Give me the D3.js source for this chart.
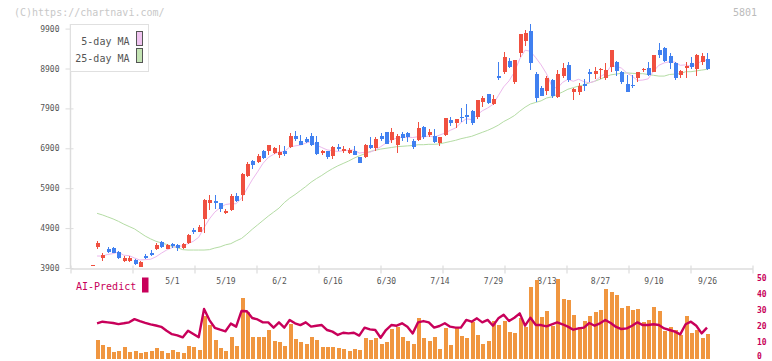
<!DOCTYPE html>
<html>
<head>
<meta charset="utf-8">
<script src="https://cdn.jsdelivr.net/npm/d3@7"></script>
<style>
body { margin: 0; background: #fff; }
svg { display: block; }
text { font-family: "DejaVu Sans Mono", monospace; }
</style>
</head>
<body>
<svg id="chart" width="772" height="361"></svg>
<script>
// trading days shown on the chart
const dates = ("4/9 4/10 4/11 4/14 4/15 4/16 4/17 4/18 4/21 4/22 4/23 4/24 4/25 4/28 4/30 " +
	"5/1 5/2 5/7 5/8 5/9 5/12 5/13 5/14 5/15 5/16 5/19 5/20 5/21 5/22 5/23 5/26 5/27 5/28 5/29 5/30 " +
	"6/2 6/3 6/4 6/5 6/6 6/9 6/10 6/11 6/12 6/13 6/16 6/17 6/18 6/19 6/20 6/23 6/24 6/25 6/26 6/27 6/30 " +
	"7/1 7/2 7/3 7/4 7/7 7/8 7/9 7/10 7/11 7/14 7/15 7/16 7/17 7/18 7/22 7/23 7/24 7/25 7/28 7/29 7/30 7/31 " +
	"8/1 8/4 8/5 8/6 8/7 8/8 8/12 8/13 8/14 8/15 8/18 8/19 8/20 8/21 8/22 8/25 8/26 8/27 8/28 8/29 " +
	"9/1 9/2 9/3 9/4 9/5 9/8 9/9 9/10 9/11 9/12 9/16 9/17 9/18 9/19 9/22 9/24 9/25 9/26").split(" ");

const open = [3970, 4430, 4160, 4370, 4410, 4300, 4080, 4080, 4100, 3930,
	4210, 4280, 4380, 4550, 4380, 4490, 4470, 4390, 4530, 4840,
	4800, 5130, 5540, 5570, 5530, 5290, 5350, 5710, 5730, 6210,
	6570, 6560, 6820, 6820, 6780, 6740, 6840, 6940, 7220, 7090,
	7130, 7220, 7060, 6780, 6820, 6710, 6930, 6830, 6790, 6840,
	6670, 6670, 6980, 6910, 7220, 7310, 7110, 6990, 7260, 7280,
	7090, 7110, 7440, 7240, 7210, 7040, 7230, 7610, 7540, 7690,
	7740, 7840, 7690, 8050, 8250, 8000, 8710, 8800, 9090, 8560,
	9300, 9600, 9840, 8760, 8410, 8340, 8600, 8190, 8720, 8990,
	8320, 8320, 8510, 8800, 8770, 8870, 8660, 8950, 9060, 8800,
	8510, 8490, 8670, 8850, 8910, 8820, 9370, 9420, 9220, 9050,
	8740, 8920, 9030, 8900, 9060, 9140];
const high = [3985, 4580, 4280, 4420, 4420, 4330, 4210, 4200, 4120, 4080,
	4260, 4350, 4520, 4570, 4490, 4530, 4490, 4520, 4750, 4890,
	4980, 5630, 5720, 5730, 5530, 5390, 5760, 5780, 6270, 6560,
	6610, 6760, 6860, 6990, 6940, 6980, 6960, 7280, 7330, 7230,
	7190, 7280, 7210, 6860, 6840, 6960, 7010, 6960, 6900, 6960,
	6690, 7010, 7180, 7190, 7290, 7320, 7400, 7250, 7320, 7300,
	7130, 7560, 7460, 7380, 7380, 7190, 7670, 7690, 7640, 7910,
	8010, 7860, 8120, 8210, 8260, 8240, 9060, 9310, 9170, 9120,
	9770, 9870, 10010, 8800, 8470, 8720, 8640, 8870, 9050, 9060,
	8400, 8530, 8640, 8890, 8950, 8920, 9030, 9370, 9100, 8840,
	8740, 8740, 8820, 8920, 9060, 9250, 9530, 9430, 9280, 9060,
	8850, 9070, 9200, 9270, 9280, 9300];
const low = [3965, 4380, 4080, 4270, 4270, 4130, 4040, 4050, 3980, 3920,
	4120, 4200, 4350, 4400, 4370, 4400, 4330, 4380, 4510, 4750,
	4790, 4780, 5350, 5370, 5300, 5260, 5340, 5560, 5590, 6190,
	6370, 6520, 6620, 6730, 6760, 6660, 6710, 6920, 7090, 6980,
	7030, 6960, 6730, 6720, 6620, 6630, 6820, 6780, 6760, 6720,
	6530, 6660, 6890, 6830, 7090, 7000, 7030, 6790, 7080, 7060,
	6890, 7090, 7140, 7190, 7030, 6960, 7220, 7470, 7410, 7560,
	7520, 7480, 7630, 7940, 8010, 7980, 8620, 8770, 8910, 8520,
	9180, 9470, 8860, 8070, 8200, 8240, 8170, 8170, 8660, 8550,
	8100, 8240, 8340, 8570, 8640, 8640, 8620, 8820, 8720, 8510,
	8310, 8400, 8570, 8800, 8720, 8800, 9160, 9070, 8880, 8610,
	8660, 8670, 8890, 8720, 8990, 8860];
const close = [3980, 4530, 4230, 4300, 4280, 4150, 4160, 4160, 4000, 4050,
	4160, 4230, 4480, 4420, 4480, 4450, 4400, 4490, 4730, 4800,
	4930, 5600, 5610, 5540, 5380, 5330, 5710, 5590, 6250, 6510,
	6480, 6710, 6660, 6980, 6900, 6800, 6760, 7220, 7130, 6990,
	7050, 6980, 6760, 6820, 6690, 6930, 6880, 6880, 6860, 6740,
	6540, 6980, 6910, 7130, 7130, 7010, 7310, 7220, 7170, 7190,
	6940, 7410, 7190, 7320, 7060, 7180, 7660, 7540, 7630, 7670,
	7690, 7540, 8110, 8160, 8030, 8140, 8660, 9190, 8940, 9110,
	9760, 9780, 9050, 8150, 8220, 8660, 8200, 8760, 8920, 8620,
	8380, 8460, 8470, 8750, 8840, 8900, 8870, 9360, 8840, 8550,
	8320, 8460, 8810, 8890, 8740, 9240, 9240, 9100, 9050, 8660,
	8840, 8960, 8940, 9240, 9220, 8880];

const ma5 = [null, 4200, 4200, 4240, 4260, 4300, 4220, 4210, 4150, 4100,
	4110, 4120, 4180, 4270, 4350, 4410, 4450, 4450, 4510, 4570,
	4670, 4910, 5130, 5300, 5410, 5490, 5510, 5510, 5650, 5880,
	6110, 6310, 6520, 6670, 6750, 6810, 6820, 6930, 6960, 6980,
	7030, 7070, 6980, 6920, 6860, 6840, 6820, 6840, 6850, 6860,
	6780, 6800, 6800, 6860, 6940, 7030, 7100, 7160, 7170, 7180,
	7170, 7190, 7180, 7210, 7180, 7230, 7280, 7350, 7410, 7540,
	7640, 7620, 7730, 7840, 7910, 8000, 8220, 8440, 8590, 8810,
	9140, 9360, 9330, 9170, 8990, 8770, 8460, 8400, 8550, 8630,
	8580, 8630, 8570, 8540, 8580, 8690, 8770, 8950, 8960, 8910,
	8790, 8710, 8600, 8610, 8640, 8830, 8980, 9040, 9070, 9060,
	8980, 8990, 8960, 9000, 9090, 9110];
const ma25 = [null, 5270, 5230, 5180, 5130, 5070, 5000, 4940, 4880, 4790,
	4700, 4630, 4570, 4530, 4490, 4440, 4410, 4360, 4350, 4350,
	4350, 4350, 4360, 4400, 4430, 4480, 4510, 4580, 4640, 4750,
	4870, 4980, 5090, 5200, 5300, 5400, 5540, 5650, 5740, 5840,
	5940, 6050, 6140, 6220, 6310, 6390, 6460, 6520, 6580, 6650,
	6710, 6760, 6820, 6850, 6880, 6900, 6920, 6940, 6950, 6960,
	6970, 6990, 6990, 7000, 7000, 7010, 7040, 7070, 7100, 7140,
	7170, 7200, 7250, 7300, 7350, 7410, 7480, 7570, 7640, 7720,
	7830, 7930, 8010, 8050, 8090, 8160, 8190, 8250, 8310, 8380,
	8420, 8460, 8490, 8540, 8580, 8630, 8690, 8740, 8760, 8780,
	8790, 8780, 8770, 8770, 8750, 8730, 8710, 8710, 8750, 8760,
	8770, 8820, 8820, 8840, 8860, 8880];

const volume = [null, 11.6, 8.4, 7.2, 4.1, 4.7, 7.2, 4.1, 4.7, 3.4,
	4.1, 4.7, 6.6, 4.7, 3.4, 5.3, 4.1, 3.4, 7.8, 7.2,
	5.3, 26.6, 20.9, 11.6, 6.6, 4.7, 13.4, 7.8, 37.8, 29,
	13.4, 13.4, 13.4, 17.8, 10.9, 10.3, 7.8, 21.6, 12.2, 10.3,
	9.1, 13.4, 11.6, 7.2, 7.2, 7.2, 6.6, 5.9, 4.7, 5.9,
	5.3, 12.8, 11.6, 12.8, 9.1, 10.3, 18.4, 19.7, 13.4, 10.9,
	9.1, 25.3, 12.8, 10.9, 13.4, 5.9, 19.1, 8.4, 19.1, 14.1,
	12.8, 22.8, 14.7, 9.1, 10.9, 23.4, 20.9, 23.4, 16.6, 15.9,
	25.3, 19.7, 44.7, 49.1, 25.9, 29.7, 20.3, 49.7, 37.2, 36.6,
	27.2, 19.7, 23.4, 26.6, 29.1, 30.3, 43.4, 41.6, 39.7, 31.6,
	32.8, 30.3, 30.9, 22.8, 24.1, 32.2, 29.7, 17.2, 19.7, 17.8,
	14.7, 26.6, 15.9, 17.8, 12.8, 15.3];
const aiPredict = [null, 22, 23, 22.6, 22.2, 21.5, 22, 22.6, 24.6, 23.4,
	22.3, 21.3, 20.6, 19.8, 17.3, 15.2, 14.5, 13.2, 17.4, 15.3,
	13.3, 31, 24, 19.2, 18, 17, 21.8, 19.9, 29.7, 29.5,
	25.3, 24.4, 22.6, 22.6, 19.3, 22.6, 19.3, 24.1, 22, 20.9,
	22.6, 19.9, 20.5, 20.9, 17.8, 16.8, 14.7, 16.1, 15.7, 16.1,
	14.3, 19.3, 18.2, 17.8, 13, 17.8, 20.9, 20.5, 22, 19.9,
	15.7, 22.6, 23.4, 22.6, 19.3, 20.3, 22, 19.9, 19.3, 19.3,
	24.1, 23, 25.1, 22.6, 24.1, 20.5, 25.1, 27.4, 23.4, 25.5,
	28.2, 20.5, 25.5, 20.9, 20.9, 20.1, 21.4, 22.6, 21.4, 19.9,
	18, 18.8, 19.3, 22.2, 20.5, 22, 24.1, 22.2, 19.7, 18.4,
	18.8, 20.5, 22.6, 20.9, 20.9, 21.4, 20.9, 18.8, 17.8, 16.8,
	15.1, 21.4, 23, 20.5, 15.7, 19.3];

const priceTicks = [3900, 4900, 5900, 6900, 7900, 8900, 9900];
const dateTicks = ["5/1", "5/19", "6/2", "6/16", "6/30", "7/14", "7/29", "8/13", "8/27", "9/10", "9/26"];
const volTicks = [0, 10, 20, 30, 40, 50];

const upColor = "#f05040";
const downColor = "#4080f0";
const aiColor = "#c8005a";
const axisColor = "#dcdcdc";

let svg = d3.select("#chart");

let rows = dates.map((d, i) => ({
	date: d, o: open[i], h: high[i], l: low[i], c: close[i],
	m5: ma5[i], m25: ma25[i], vol: volume[i], ai: aiPredict[i]
}));

let x = d3.scalePoint().domain(dates).range([91.7, 707]);
let yPrice = d3.scaleLinear().domain([3900, 9900]).range([268, 28.6]);
let yVol = d3.scaleLinear().domain([0, 50]).range([358.5, 278.5]);
let xGrid = d3.scaleLinear().domain([0, 11]).range([70.5, 752.5]);

// header texts
svg.append("text")
	.attr("x", 14).attr("y", 15.5)
	.attr("font-size", 10).attr("fill", "#c8c8c8")
	.text("(C)https://chartnavi.com/");
svg.append("text")
	.attr("x", 757).attr("y", 16)
	.attr("text-anchor", "end")
	.attr("font-size", 10).attr("fill", "#bbbbbb")
	.text("5801");

// price axis
let yAxis = svg.append("g")
	.attr("transform", "translate(70.5,0)")
	.call(d3.axisLeft(yPrice).tickValues(priceTicks).tickSize(5).tickPadding(6).tickFormat(d3.format("d")));
yAxis.select(".domain").remove();
yAxis.selectAll(".tick line").attr("x1", 3).attr("x2", -5).attr("stroke", axisColor);
yAxis.selectAll(".tick text")
	.attr("fill", "#555").attr("font-size", 8)
	.attr("font-family", "DejaVu Sans Mono, monospace");

svg.append("line")
	.attr("x1", 70.5).attr("x2", 70.5)
	.attr("y1", 24).attr("y2", 268.5)
	.attr("stroke", axisColor).attr("stroke-width", 1.5);

// bottom axis with plain ticks
let xAxis = svg.append("g")
	.attr("transform", "translate(0,268.5)")
	.call(d3.axisBottom(xGrid).ticks(11).tickSize(5).tickSizeOuter(0).tickFormat(""));
xAxis.select(".domain").attr("stroke", axisColor).attr("stroke-width", 1.5);
xAxis.selectAll(".tick line").attr("y1", -3).attr("y2", 5).attr("stroke", axisColor).attr("stroke-width", 1.2);

// date labels
let dateAxis = svg.append("g")
	.attr("transform", "translate(0,278.5)")
	.call(d3.axisBottom(x).tickValues(dateTicks).tickSize(0).tickPadding(0));
dateAxis.select(".domain").remove();
dateAxis.selectAll(".tick text")
	.attr("fill", "#555").attr("font-size", 8)
	.attr("font-family", "DejaVu Sans Mono, monospace");

// volume axis on the right
let vAxis = svg.append("g")
	.attr("transform", "translate(757,0)")
	.call(d3.axisRight(yVol).tickValues(volTicks).tickSize(0).tickPadding(0));
vAxis.select(".domain").remove();
vAxis.selectAll(".tick text")
	.attr("dy", d => d == 0 ? "-0.05em" : "0.2em")
	.attr("fill", aiColor).attr("font-size", 8).attr("font-weight", "bold")
	.attr("font-family", "DejaVu Sans Mono, monospace");

// moving averages
let maLine = (key) => d3.line()
	.defined(d => d[key] != null)
	.x(d => x(d.date))
	.y(d => yPrice(d[key]));

svg.append("path")
	.datum(rows)
	.attr("d", maLine("m25"))
	.attr("fill", "none").attr("stroke", "#b4dca4").attr("stroke-width", 1);
svg.append("path")
	.datum(rows)
	.attr("d", maLine("m5"))
	.attr("fill", "none").attr("stroke", "#ecb8ec").attr("stroke-width", 1);

// candles
let candle = svg.append("g")
	.selectAll("g")
	.data(rows)
	.join("g")
	.attr("fill", d => d.c >= d.o ? upColor : downColor)
	.attr("stroke", d => d.c >= d.o ? upColor : downColor)
	.attr("shape-rendering", "crispEdges");

candle.append("line")
	.attr("x1", d => Math.round(x(d.date)) + 0.5)
	.attr("x2", d => Math.round(x(d.date)) + 0.5)
	.attr("y1", d => yPrice(d.h))
	.attr("y2", d => yPrice(d.l))
	.attr("stroke-width", 1);

candle.append("rect")
	.attr("x", d => Math.round(x(d.date)) - 1.5)
	.attr("width", 4)
	.attr("y", d => yPrice(Math.max(d.o, d.c)))
	.attr("height", d => Math.max(1, Math.abs(yPrice(d.o) - yPrice(d.c))))
	.attr("stroke", "none");

// volume bars
svg.append("g")
	.selectAll("rect")
	.data(rows.filter(d => d.vol != null))
	.join("rect")
	.attr("x", d => Math.round(x(d.date)) - 1.5)
	.attr("width", 4)
	.attr("y", d => yVol(d.vol))
	.attr("height", d => yVol(0) - yVol(d.vol))
	.attr("fill", "#f09640")
	.attr("shape-rendering", "crispEdges");

// AI predict line
svg.append("path")
	.datum(rows)
	.attr("d", d3.line()
		.defined(d => d.ai != null)
		.x(d => x(d.date))
		.y(d => yVol(d.ai)))
	.attr("fill", "none").attr("stroke", aiColor)
	.attr("stroke-width", 2.4).attr("stroke-linejoin", "round");

svg.append("text")
	.attr("x", 76).attr("y", 289.5)
	.attr("font-size", 10).attr("fill", aiColor)
	.text("AI-Predict");
svg.append("rect")
	.attr("x", 142).attr("y", 277.5)
	.attr("width", 6.5).attr("height", 15)
	.attr("fill", aiColor);

// legend
let legend = svg.append("g");
legend.append("rect")
	.attr("x", 70.5).attr("y", 24.5)
	.attr("width", 78).attr("height", 47)
	.attr("fill", "#fff").attr("stroke", "#e0e0e0");

let legendItems = [["5-day MA", "#f0c4f0"], ["25-day MA", "#c4e4b4"]];
legendItems.forEach((item, i) => {
	legend.append("text")
		.attr("x", 129.5).attr("y", 44.5 + i * 17)
		.attr("text-anchor", "end")
		.attr("font-size", 10).attr("fill", "#555")
		.text(item[0]);
	legend.append("rect")
		.attr("x", 136.5).attr("y", 31.5 + i * 17)
		.attr("width", 6).attr("height", 14)
		.attr("fill", item[1]).attr("stroke", "#555");
});
</script>
</body>
</html>
